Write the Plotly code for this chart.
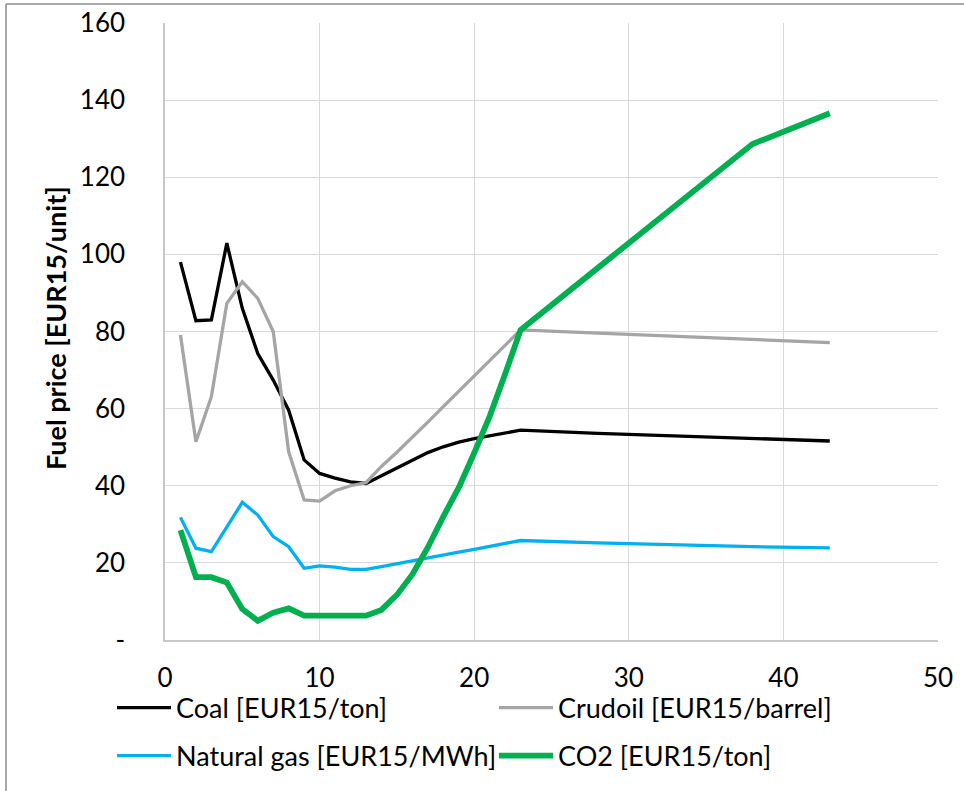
import plotly.graph_objects as go

# ---- data ----
x_vals = list(range(1, 24)) + [28, 33, 38, 43]

coal = [98.0, 82.8, 83.0, 102.9, 86.0, 74.3, 67.4, 59.6, 46.7, 43.2, 42.0, 41.0, 40.6,
        42.6, 44.7, 46.8, 48.6, 50.1, 51.3, 52.2, 53.0, 53.7, 54.4,
        53.6, 52.9, 52.3, 51.6]
crudoil = [79.1, 51.4, 63.1, 87.3, 92.9, 88.6, 80.0, 48.8, 36.3, 36.0, 38.7, 40.0, 40.8,
           45.0, 48.7, 52.5, 56.5, 60.5, 64.5, 68.5, 72.5, 76.5, 80.4,
           79.6, 78.8, 78.0, 77.1]
natgas = [31.8, 23.8, 22.9, 29.3, 35.7, 32.4, 26.8, 24.2, 18.6, 19.2, 18.9, 18.3, 18.3,
          19.0, 19.8, 20.5, 21.3, 22.0, 22.8, 23.5, 24.3, 25.0, 25.8,
          25.2, 24.6, 24.2, 23.9]
co2 = [28.5, 16.3, 16.3, 14.9, 8.0, 5.0, 7.1, 8.2, 6.3, 6.3, 6.4, 6.5, 6.3,
       7.8, 11.7, 17.0, 24.0, 32.0, 39.5, 48.5, 58.0, 69.0, 80.4,
       96.5, 112.5, 128.6, 136.6]

series_names = ["Coal [EUR15/ton]", "Crudoil [EUR15/barrel]",
                "Natural gas [EUR15/MWh]", "CO2 [EUR15/ton]"]
y_tickvals = [0, 20, 40, 60, 80, 100, 120, 140, 160]
y_ticktext = ["-", "20", "40", "60", "80", "100", "120", "140", "160"]
x_tickvals = [0, 10, 20, 30, 40, 50]

FONT = "Lato"

fig = go.Figure()
fig.add_trace(go.Scatter(x=x_vals, y=coal, mode="lines", name=series_names[0],
                         line=dict(color="#000000", width=3.3), legend="legend"))
fig.add_trace(go.Scatter(x=x_vals, y=crudoil, mode="lines", name=series_names[1],
                         line=dict(color="#A5A5A5", width=3.3), legend="legend"))
fig.add_trace(go.Scatter(x=x_vals, y=natgas, mode="lines", name=series_names[2],
                         line=dict(color="#00B0F0", width=3.3), legend="legend2"))
fig.add_trace(go.Scatter(x=x_vals, y=co2, mode="lines", name=series_names[3],
                         line=dict(color="#00B050", width=5.8), legend="legend2"))

W, H = 964, 791
L, R, T, B = 165, 26, 23, 151
pw, ph = W - L - R, H - T - B

def px_x(p):
    return (p - L) / pw

def px_y(q):
    return (H - B - q) / ph

legend_common = dict(orientation="h", xanchor="left", yanchor="middle",
                     font=dict(family=FONT, size=27, color="#000000"),
                     bgcolor="rgba(0,0,0,0)", itemwidth=54,
                     entrywidthmode="pixels", entrywidth=313,
                     traceorder="normal")

fig.update_layout(
    width=W, height=H,
    margin=dict(l=L, r=R, t=T, b=B, autoexpand=False),
    paper_bgcolor="white", plot_bgcolor="white",
    font=dict(family=FONT, size=25, color="#000000"),
    showlegend=True,
    legend=dict(x=px_x(112), y=px_y(708), **legend_common),
    legend2=dict(x=px_x(112), y=px_y(756), **legend_common),
    xaxis=dict(range=[0, 50], tickvals=x_tickvals, showgrid=True,
               gridcolor="#D9D9D9", gridwidth=1.3, zeroline=False,
               showline=True, linecolor="#C8C8C8", linewidth=1.5,
               ticks="", ticklabelstandoff=14, automargin=False,
               tickfont=dict(family=FONT, size=26, color="#000000")),
    yaxis=dict(range=[0, 160], tickvals=y_tickvals, ticktext=y_ticktext,
               showgrid=True, gridcolor="#D9D9D9", gridwidth=1.3, zeroline=False,
               showline=True, linecolor="#C8C8C8", linewidth=1.5,
               ticks="", ticklabelstandoff=33, automargin=False,
               tickfont=dict(family=FONT, size=26, color="#000000")),
    annotations=[dict(text="<b>Fuel price [EUR15/unit]</b>", textangle=-90,
                      xref="paper", yref="paper", x=px_x(55), y=px_y(328),
                      xanchor="center", yanchor="middle", showarrow=False,
                      font=dict(family=FONT, size=27, color="#000000"))],
    shapes=[
        dict(type="line", xref="paper", yref="paper",
             x0=px_x(6), x1=px_x(970), y0=px_y(4), y1=px_y(4),
             line=dict(color="#8C8C8C", width=1.5)),
        dict(type="line", xref="paper", yref="paper",
             x0=px_x(6), x1=px_x(6), y0=px_y(4), y1=px_y(800),
             line=dict(color="#8C8C8C", width=1.5)),
    ],
)

fig.write_html("out.html", config={"displayModeBar": False},
               post_script="document.body.style.margin='0';document.body.style.overflow='hidden';")
